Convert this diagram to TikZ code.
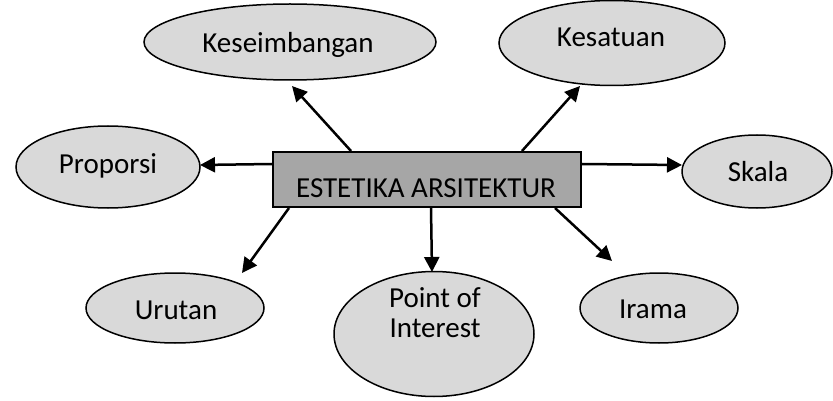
\documentclass[tikz,border=0pt]{standalone}
\usepackage{fontspec}
\setmainfont{Carlito}
\usetikzlibrary{arrows.meta,shapes.geometric}
\definecolor{ellfill}{RGB}{217,217,217}
\definecolor{boxfill}{RGB}{166,166,166}
\begin{document}
\begin{tikzpicture}[x=1pt,y=-1pt,
  bub/.style={ellipse,draw=black,line width=1.5pt,fill=ellfill,inner sep=0pt},
  lbl/.style={anchor=base,inner sep=0pt,font=\fontsize{29}{35}\selectfont},
  conn/.style={line width=2.5pt,-{Triangle[length=15pt,width=15pt]}}]
\useasboundingbox (0,0) rectangle (833,401);
% centre box
\node[draw=black,line width=2pt,fill=boxfill,minimum width=308pt,minimum height=55pt,inner sep=0pt] (core) at (427,179.5) {};
\node[lbl] (coretxt) at (426,197) {ESTETIKA ARSITEKTUR};
% ellipses
\node[bub,minimum width=292pt,minimum height=76pt] (kes) at (290,42) {};
\node[lbl] (kestxt) at (288,53) {Keseimbangan};
\node[bub,minimum width=226pt,minimum height=85pt] (sat) at (612,43) {};
\node[lbl] (sattxt) at (611,47) {Kesatuan};
\node[bub,minimum width=184pt,minimum height=82pt] (pro) at (108,167) {};
\node[lbl] (protxt) at (108,174) {Proporsi};
\node[bub,minimum width=150pt,minimum height=73pt] (ska) at (757,171.5) {};
\node[lbl] (skatxt) at (758,182) {Skala};
\node[bub,minimum width=178pt,minimum height=70pt] (uru) at (175,308) {};
\node[lbl] (urutxt) at (176,319) {Urutan};
\node[bub,minimum width=200pt,minimum height=125pt] (poi) at (434,334) {};
\node[lbl] (poitxt1) at (435,307) {Point of};
\node[lbl] (poitxt2) at (435,337) {Interest};
\node[bub,minimum width=158pt,minimum height=70pt] (ira) at (659,308) {};
\node[lbl] (iratxt) at (653,318) {Irama};
% arrow end points
\coordinate (eKes) at (292,86);
\coordinate (eSat) at (580,86);
\coordinate (ePro) at (200,165);
\coordinate (eSka) at (682,165);
\coordinate (eUru) at (242,273);
\coordinate (ePoi) at (432,272);
\coordinate (eIra) at (612,261);
% arrows
\draw[conn] (core.north west) ++(79,0) -- (eKes);
\draw[conn] (core.north west) ++(250,0) -- (eSat);
\draw[conn] (core.north west) ++(0,13) -- (ePro);
\draw[conn] (core.north east) ++(0,13) -- (eSka);
\draw[conn] (core.south west) ++(17,0) -- (eUru);
\draw[conn] (core.south west) ++(159,0) -- (ePoi);
\draw[conn] (core.south west) ++(283,0) -- (eIra);
\end{tikzpicture}
\end{document}
